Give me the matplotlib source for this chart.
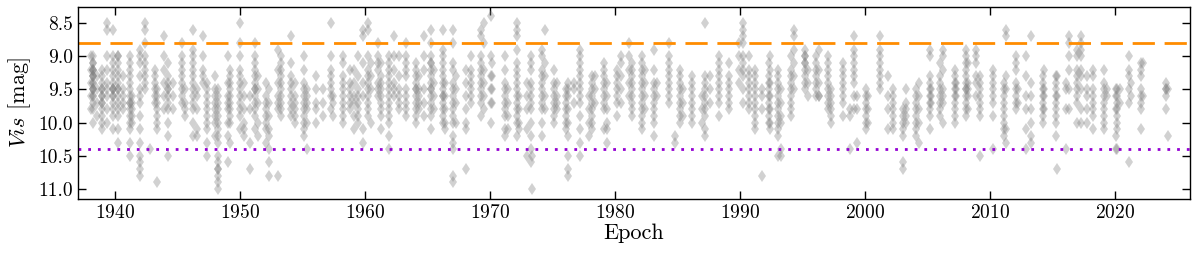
import numpy as np
import matplotlib
matplotlib.use("Agg")
import matplotlib.pyplot as plt

plt.rcParams['font.family'] = ['cmr10', 'DejaVu Serif']
plt.rcParams['mathtext.fontset'] = 'cm'
plt.rcParams['axes.formatter.use_mathtext'] = True

# observing columns: epoch of each column and the visual magnitudes seen in it
epochs = [
    1938.05, 1938.24, 1938.5, 1938.95, 1939.3, 1939.84, 1940.2, 1940.64, 1941.17, 1941.3,
    1941.97, 1942.37, 1942.77, 1943.17, 1943.36, 1943.92, 1944.18, 1944.6, 1945.3, 1945.57,
    1946.24, 1946.5, 1947.04, 1947.3, 1947.97, 1948.2, 1949.0, 1949.2, 1950.0, 1950.25,
    1950.75, 1951.2, 1951.4, 1952.08, 1952.3, 1953.0, 1953.28, 1954.08, 1954.35, 1955.07,
    1955.3, 1956.08, 1956.6, 1957.28, 1957.4, 1958.2, 1958.75, 1959.1, 1959.4, 1959.8,
    1960.24, 1960.45, 1961.0, 1961.25, 1961.9, 1962.3, 1962.72, 1963.25, 1964.05, 1964.32,
    1964.72, 1965.25, 1965.5, 1966.2, 1966.37, 1967.0, 1967.25, 1968.05, 1968.45, 1969.25,
    1969.52, 1970.05, 1970.16, 1971.2, 1971.44, 1972.16, 1972.3, 1972.96, 1973.23, 1973.36,
    1974.16, 1974.37, 1975.1, 1975.36, 1976.03, 1976.24, 1976.7, 1977.2, 1977.9, 1978.16,
    1978.4, 1979.1, 1979.36, 1980.16, 1980.43, 1981.1, 1981.33, 1982.13, 1982.4, 1983.12,
    1983.33, 1984.27, 1984.8, 1985.2, 1985.41, 1986.13, 1986.93, 1987.2, 1987.6, 1988.27,
    1989.07, 1989.87, 1990.21, 1990.67, 1991.2, 1991.73, 1992.27, 1992.37, 1993.04, 1993.3,
    1994.1, 1994.32, 1995.17, 1995.44, 1996.1, 1996.3, 1997.04, 1997.3, 1998.24, 1998.77,
    1999.12, 1999.38, 2000.1, 2000.24, 2001.17, 2001.84, 2002.24, 2003.04, 2003.3, 2004.08,
    2004.3, 2005.15, 2005.28, 2005.95, 2006.2, 2007.15, 2007.28, 2008.08, 2008.2, 2008.88,
    2009.15, 2010.21, 2011.15, 2011.28, 2012.08, 2012.2, 2012.88, 2013.28, 2014.2, 2014.32,
    2015.25, 2015.33, 2016.05, 2016.32, 2016.99, 2017.25, 2017.79, 2018.27, 2019.12, 2019.33,
    2020.05, 2020.19, 2020.4, 2021.12, 2021.31, 2022.05, 2022.27, 2024.05, 2024.24,
]

mags = [
    [9.0, 9.2, 9.4, 9.6, 9.8],
    [9.0, 9.1, 9.1, 9.2, 9.2, 9.2, 9.3, 9.3, 9.3, 9.4, 9.4, 9.5, 9.5, 9.5, 9.6, 9.6, 9.7, 9.8, 10.0],
    [9.3, 9.5, 9.7, 9.9],
    [9.2, 9.3, 9.4, 9.5, 9.5, 9.6, 9.6, 9.7, 9.7, 9.8, 9.9, 10.0, 10.1],
    [8.5, 8.6, 9.0, 9.2, 9.4, 9.5, 9.6, 9.8, 10.0],
    [8.6, 9.0, 9.1, 9.2, 9.3, 9.4, 9.5, 9.5, 9.5, 9.6, 9.6, 9.7, 9.8, 9.9, 10.1],
    [9.0, 9.0, 9.1, 9.2, 9.3, 9.4, 9.5, 9.5, 9.6, 9.7, 9.8, 9.9, 10.1, 10.3],
    [9.3, 9.5, 9.6, 9.7, 9.8],
    [9.0, 9.1, 9.2, 9.3, 9.4, 9.5, 9.6, 9.7, 9.7, 9.8, 9.9, 10.0, 10.1, 10.3, 10.5],
    [9.6, 9.7, 9.8, 9.9, 10.0],
    [8.9, 9.0, 9.1, 9.3, 9.5, 9.6, 9.7, 9.9, 10.1, 10.3, 10.5, 10.6, 10.7, 10.8],
    [8.5, 8.6, 8.8, 9.0, 9.1, 9.2, 9.3, 9.4, 9.5],
    [10.4],
    [9.2, 9.3, 9.4, 9.5, 9.6, 9.7],
    [9.5, 9.6, 9.7, 9.8, 9.9, 10.0, 10.1, 10.9],
    [8.7, 9.0, 9.2, 9.4, 9.6, 9.8],
    [9.1, 9.3, 9.4, 9.5, 9.5, 9.6, 9.7, 9.8, 10.0, 10.2, 10.5],
    [9.4, 9.6, 9.8],
    [8.8, 9.0, 9.1, 9.2, 9.3, 9.4, 9.5, 9.6, 9.7],
    [9.5, 9.7, 9.8, 9.9],
    [8.6, 8.9, 9.0, 9.1, 9.2, 9.3, 9.4, 9.5, 9.6, 9.7, 9.8, 10.0, 10.2],
    [9.5, 9.6, 9.8, 10.1, 10.2],
    [8.7, 9.0, 9.2, 9.3, 9.4],
    [9.4, 9.5, 9.6, 9.7, 9.8, 9.9, 10.0, 10.1, 10.3, 10.5],
    [9.3, 9.5, 9.6, 9.7, 9.8, 9.9, 10.0, 10.2],
    [9.5, 9.6, 9.7, 9.8, 9.9, 10.0, 10.1, 10.2, 10.3, 10.5, 10.6, 10.7, 10.7, 10.8, 10.9, 11.0],
    [9.0, 9.4, 9.6, 9.7, 9.8, 10.0, 10.2, 10.6],
    [9.2, 9.3, 9.4, 9.5, 9.6, 9.7, 9.8, 9.9, 10.0, 10.3],
    [8.5, 8.8, 9.0, 9.2, 9.3, 9.4, 9.5, 9.6, 9.7, 9.8, 9.9, 10.1],
    [9.4, 9.6, 9.8, 10.0, 10.1, 10.2],
    [9.6, 9.8, 10.3, 10.7],
    [8.8, 9.0, 9.1, 9.2, 9.3, 9.4, 9.5, 9.5, 9.6, 9.7, 9.8, 9.9, 10.1],
    [9.3, 9.5, 9.7, 10.0, 10.2],
    [9.4, 9.6, 9.7, 9.8, 9.9, 10.0, 10.1, 10.3],
    [9.5, 9.7, 9.9, 10.1, 10.2, 10.4, 10.6, 10.8],
    [8.9, 9.2, 9.4, 9.6, 9.7, 9.8, 10.8],
    [9.0, 9.1, 9.2, 9.3, 9.4, 9.5, 9.6, 9.7, 9.8, 9.9],
    [8.7, 9.1, 9.3, 9.4, 9.5, 9.6, 9.7, 9.8, 9.9],
    [9.4, 9.6, 9.7, 9.8, 9.9, 10.0],
    [9.0, 9.2, 9.4, 9.5, 9.6, 9.7, 9.8, 9.9, 10.0, 10.1, 10.2],
    [9.5, 9.6, 9.7, 9.8, 10.0, 10.4],
    [9.3, 9.5, 9.7, 9.8, 10.0],
    [9.5, 9.7, 9.9],
    [8.5, 9.0, 9.2, 9.3, 9.4, 9.5, 9.6, 9.8],
    [9.6, 9.7, 9.9],
    [9.0, 9.1, 9.3, 9.4, 9.5, 9.6, 9.7, 9.8, 9.9, 10.0],
    [9.2, 9.4, 9.5, 9.6, 9.7, 9.8],
    [9.2, 9.4, 9.6, 9.7, 9.9, 10.1],
    [9.0, 9.3, 9.5, 9.6, 9.7, 9.8, 9.9, 10.0],
    [8.6, 8.7, 9.1, 9.4, 9.6, 10.1, 10.3],
    [8.5, 8.6, 9.0, 9.2, 9.3, 9.4, 9.5, 9.6, 9.7, 9.8, 9.9],
    [9.1, 9.3, 9.5, 10.0],
    [8.8, 9.0, 9.1, 9.2, 9.4, 9.5, 9.6],
    [9.1, 9.3, 9.4, 9.5, 9.6, 9.7, 9.8, 9.9, 10.1],
    [9.0, 9.1, 9.2, 9.3, 9.4, 9.5, 9.6, 9.7, 9.8, 9.9, 10.0, 10.2, 10.4],
    [8.7, 9.0, 9.2, 9.4, 9.5, 9.6],
    [9.0, 9.3, 9.5, 9.6, 9.7, 9.8],
    [8.8, 9.0, 9.1, 9.2, 9.3, 9.5, 9.6, 9.7, 9.8, 9.9],
    [9.1, 9.2, 9.3, 9.4, 9.5, 9.5, 9.6, 9.7, 9.8, 9.9, 10.0],
    [9.3, 9.5, 9.6, 9.7, 9.8],
    [8.7, 9.0, 9.2, 9.5, 9.7, 9.9],
    [8.6, 8.8, 9.0, 9.1, 9.1, 9.2, 9.3, 9.4, 9.5, 9.5, 9.6, 9.7, 9.8, 9.9, 10.1],
    [9.2, 9.4, 9.6, 9.8],
    [8.6, 8.9, 9.0, 9.1, 9.2, 9.3, 9.4, 9.5, 9.6, 9.6, 9.7, 9.8, 9.9, 10.0],
    [9.4, 9.6, 9.8, 10.0, 10.1],
    [8.6, 8.8, 9.1, 9.2, 9.4, 9.5, 9.6, 9.7, 9.8, 9.9, 10.0, 10.2, 10.3, 10.4, 10.8, 10.9],
    [9.3, 9.5, 9.7, 10.0],
    [9.2, 9.4, 9.6, 9.8, 10.0, 10.1, 10.7],
    [9.0, 9.2, 9.3, 9.4, 9.5, 9.6, 9.7],
    [8.6, 8.7, 9.0, 9.1, 9.2, 9.3, 9.4, 9.5, 9.6, 9.7, 9.9],
    [8.5, 8.8, 9.2, 9.4, 9.6, 9.8],
    [8.4, 9.0, 9.3, 9.5, 9.7, 10.0],
    [9.1, 9.3, 9.5, 9.7],
    [9.0, 9.2, 9.4, 9.5, 9.6, 9.7, 9.8, 9.9, 10.1, 10.2],
    [9.5, 9.7, 9.9, 10.1],
    [8.5, 8.6, 8.7, 8.9, 9.1, 9.2, 9.3, 9.4, 9.5, 9.6, 9.7, 9.8, 9.9, 10.0, 10.2],
    [9.6, 9.8, 10.0, 10.1],
    [9.4, 9.6, 9.8, 10.1, 10.5],
    [9.0, 9.1, 9.2, 9.4, 9.5, 9.6, 9.7, 9.8, 10.0, 10.2, 10.4, 10.6],
    [10.5, 11.0],
    [8.9, 9.0, 9.2, 9.3, 9.4, 9.5, 9.6, 9.7, 9.8, 10.0, 10.2],
    [8.6, 9.1, 9.3, 9.6, 9.8],
    [9.2, 9.4, 9.5, 9.6, 9.7, 9.8, 9.9, 10.0],
    [9.4, 9.6, 9.7, 9.8],
    [9.5, 9.6, 9.7, 9.8, 9.9, 10.0, 10.1],
    [9.4, 9.5, 9.6, 9.8, 10.0, 10.2, 10.5, 10.7, 10.8],
    [9.4, 9.5, 9.7],
    [8.9, 9.0, 9.1, 9.2, 9.3, 9.4, 9.5, 9.6, 9.7, 9.9, 10.1, 10.3, 10.5],
    [9.6, 9.8, 10.0, 10.2],
    [9.3, 9.4, 9.5, 9.6, 9.7, 9.8, 9.9, 10.0, 10.1],
    [9.3, 9.5, 9.7],
    [9.1, 9.2, 9.3, 9.4, 9.5, 9.6, 9.7, 9.8, 10.1],
    [9.4, 9.6, 9.8, 10.0, 10.1, 10.3],
    [9.2, 9.3, 9.4, 9.5, 9.6, 9.7, 9.9],
    [9.0, 9.1, 9.3, 9.5, 9.7],
    [8.8, 9.0, 9.2, 9.4, 9.6],
    [9.1, 9.2, 9.3, 9.4, 9.5, 9.6, 9.7, 9.8, 9.9],
    [9.0, 9.1, 9.2, 9.3, 9.4, 9.5, 9.6, 9.7, 9.8, 9.9, 10.0, 10.1],
    [9.2, 9.4, 9.6, 9.8],
    [8.9, 9.2, 9.4, 9.5, 9.6, 9.7, 9.8, 9.9, 10.0, 10.2],
    [9.4, 9.6],
    [8.8, 9.0, 9.1, 9.2, 9.3, 9.4, 9.5, 9.6, 9.7],
    [10.2, 10.3],
    [9.2, 9.3, 9.4, 9.5, 9.6, 9.7, 9.8, 9.9, 10.0],
    [9.5, 9.7, 9.9],
    [9.3, 9.4, 9.5, 9.6, 9.7, 9.8, 9.9, 10.0],
    [9.6, 9.8, 10.0],
    [8.5, 9.3, 9.4, 9.5, 9.6, 9.7, 9.8, 9.9, 10.1, 10.2],
    [9.3, 9.5, 9.7],
    [9.0, 9.1, 9.2, 9.3, 9.4, 9.5, 9.6, 9.7, 9.9],
    [9.1, 9.3, 9.4, 9.5, 9.6, 9.7, 9.8],
    [8.8, 9.0, 9.2, 9.4],
    [8.5, 8.6, 8.7, 8.8, 9.0, 9.1, 9.2, 9.3, 9.5, 9.7],
    [9.0, 9.2, 9.3, 9.4, 9.5, 9.6, 9.7, 9.8],
    [9.2, 9.3, 9.4, 9.5, 9.6, 9.7, 9.8, 9.9, 10.0, 10.1],
    [9.5, 9.6, 9.8, 10.8],
    [9.1, 9.3, 9.4, 9.5, 9.6, 9.7, 9.8, 9.9, 10.0],
    [9.0, 9.2, 9.4, 9.6, 9.8, 10.0, 10.1],
    [9.2, 9.3, 9.4, 9.5, 9.6, 9.7, 9.8, 9.9, 10.0, 10.1, 10.2, 10.5],
    [9.5, 9.7, 9.9, 10.0, 10.4, 10.5],
    [9.0, 9.2, 9.3, 9.4, 9.5, 9.6, 9.7, 9.8, 9.9],
    [8.6, 8.7, 8.9, 9.1, 9.3, 9.5],
    [8.9, 9.0, 9.0, 9.1, 9.1, 9.2, 9.3, 9.4, 9.5],
    [9.2, 9.4, 9.6],
    [9.0, 9.1, 9.2, 9.3, 9.4, 9.5, 9.6],
    [8.9, 9.2, 9.4, 9.6, 9.6],
    [9.0, 9.1, 9.2, 9.3, 9.4, 9.5, 9.6, 9.7, 9.8],
    [9.5, 9.6, 9.7, 9.8, 9.9, 10.0],
    [9.1, 9.2, 9.3, 9.4, 9.5, 9.6, 9.7, 9.9],
    [9.8, 9.9, 10.4],
    [8.7, 8.9, 9.0, 9.1, 9.2, 9.3, 9.4, 9.6, 9.8],
    [9.6, 9.8, 10.3],
    [9.5, 9.6, 9.7, 9.8, 9.9, 10.0, 10.1],
    [9.6, 9.8, 10.0],
    [8.7, 8.9, 9.0, 9.1, 9.2, 9.3, 9.4, 9.5],
    [9.3, 9.6, 9.8, 10.1],
    [9.5, 9.6, 9.7, 9.8, 9.9, 10.0, 10.1],
    [9.8, 9.9, 10.0, 10.1, 10.2, 10.6, 10.7],
    [9.5, 9.7, 9.8, 9.9, 10.0],
    [9.5, 9.6, 9.7, 9.8, 9.9, 10.0, 10.1, 10.2],
    [9.4, 9.6, 9.8, 10.0, 10.3],
    [8.9, 9.0, 9.3, 9.4, 9.5, 9.6, 9.7, 9.8, 9.9, 10.1],
    [9.5, 9.6, 9.7],
    [9.1, 9.3, 9.4, 9.5, 9.6, 9.7, 9.8, 9.9],
    [8.9, 9.0, 9.2, 9.5, 9.6, 9.7, 10.0],
    [9.2, 9.3, 9.4, 9.5, 9.6, 9.7, 9.8, 9.9, 10.0],
    [9.4, 9.5, 9.6],
    [8.9, 9.0, 9.1, 9.2, 9.3, 9.4, 9.5, 9.5, 9.6, 9.7, 9.8, 9.9],
    [9.1, 9.4, 9.5, 9.6, 9.8],
    [8.9, 9.0, 9.1, 9.3, 9.4, 9.6],
    [9.3, 9.4, 9.5, 9.6, 9.7, 9.8, 9.9, 10.5],
    [9.2, 9.3, 9.4, 9.5, 9.6, 9.7, 9.9, 10.4],
    [9.4, 9.5, 9.6, 9.7, 9.8, 9.9, 10.0, 10.1, 10.2],
    [8.6, 8.7, 9.3, 9.5, 10.1, 10.3],
    [9.0, 9.1, 9.2, 9.4, 9.5, 9.6, 9.7, 9.8],
    [9.5, 9.7],
    [9.0, 9.3, 9.6, 9.8, 10.1, 10.4],
    [8.7, 9.4, 9.6, 9.8, 10.0, 10.2, 10.3],
    [9.3, 9.4, 9.5, 9.6, 9.7, 9.8, 9.9, 10.0],
    [9.2, 9.5, 9.6, 9.8],
    [9.3, 9.4, 9.5, 9.6, 9.7, 9.8, 9.9, 10.0, 10.2],
    [9.3, 9.6, 10.7],
    [9.4, 9.5, 9.8, 10.4],
    [8.7, 8.8, 9.0, 9.2, 9.5, 9.8],
    [8.9, 9.0, 9.2, 9.3, 9.4, 9.5, 9.6, 9.7, 10.0],
    [8.7, 8.8, 8.9, 9.0, 9.2, 9.3, 9.5, 9.8, 10.0],
    [9.3, 9.5, 9.6, 9.8, 10.0],
    [9.2, 9.3, 9.5, 9.6, 9.7, 9.8, 9.9, 10.1],
    [9.2, 9.4, 9.5, 9.6, 9.7, 9.8, 9.9, 10.0, 10.1],
    [9.5, 9.6],
    [9.5, 9.6, 9.8, 10.2, 10.4],
    [9.5, 9.6, 9.7, 9.8, 9.9, 10.0, 10.1, 10.4],
    [9.5, 9.7],
    [9.0, 9.2, 9.3, 9.5, 9.7, 10.6],
    [9.4, 9.6],
    [9.1, 9.2, 9.3, 9.5, 9.6, 9.7, 9.8, 10.1],
    [9.1, 9.6],
    [9.4, 9.5, 9.5, 9.6, 9.8],
    [9.5, 10.2],
]

bright_limit = 8.8
faint_limit = 10.4

x = np.concatenate([[e] * len(m) for e, m in zip(epochs, mags)])
y = np.concatenate(mags)

fig = plt.figure(figsize=(12, 2.54), dpi=100)
ax = fig.add_axes([0.065, 0.2165, 0.9267, 0.7555])

ax.plot(x, y, 'd', color='gray', alpha=0.36, markersize=6, markeredgewidth=0)
ax.axhline(bright_limit, color='darkorange', lw=2, ls=(0, (8, 3.5)))
ax.axhline(faint_limit, color='darkviolet', lw=2, ls=(0, (1, 2.5)))

ax.set_xlim(1937.0, 2026.0)
ax.set_ylim(11.15, 8.26)
ax.set_yticks([8.5, 9.0, 9.5, 10.0, 10.5, 11.0])
ax.set_yticklabels(['8.5', '9.0', '9.5', '10.0', '10.5', '11.0'])
ax.tick_params(direction='in', top=True, right=True, length=6, width=1, labelsize=14)
for s in ax.spines.values():
    s.set_linewidth(1)

ax.set_xlabel('Epoch', fontsize=16, labelpad=1)
ax.set_ylabel(r'$Vis$ [mag]', fontsize=16, labelpad=4)

fig.savefig('out.png', dpi=100)
